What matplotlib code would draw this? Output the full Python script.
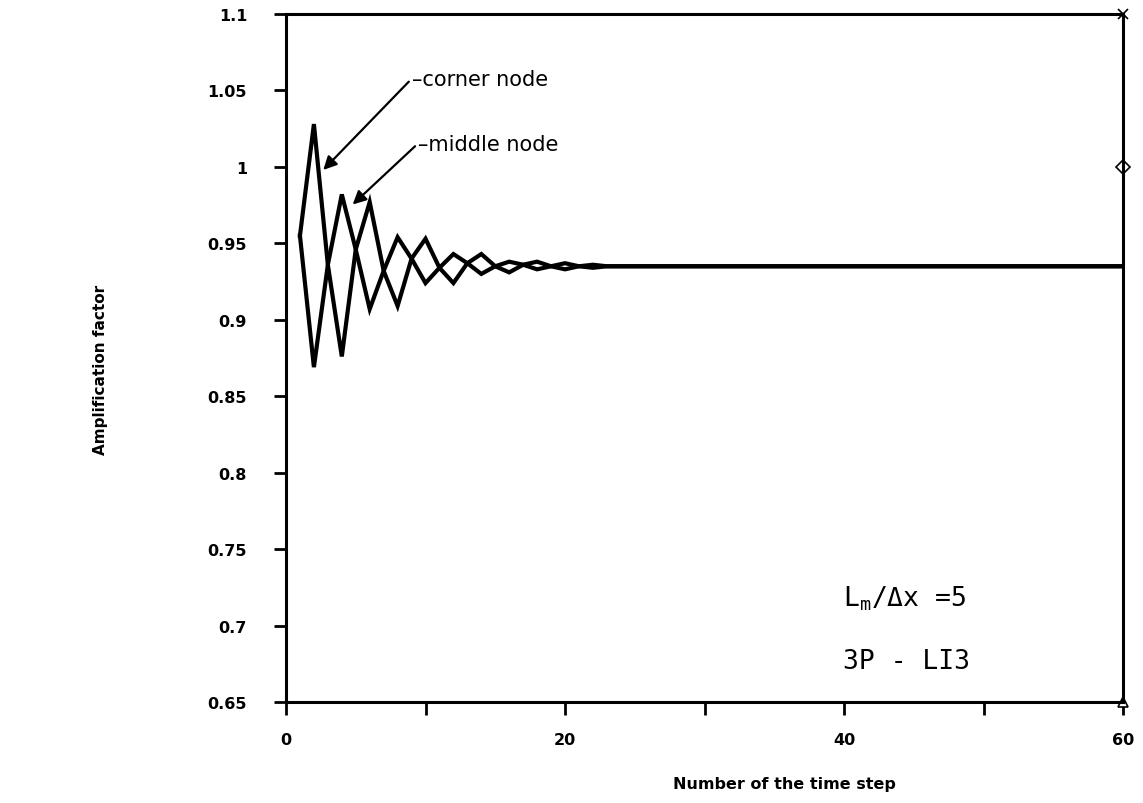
import matplotlib
matplotlib.use("Agg")
import matplotlib.pyplot as plt

# Datos (paso de tiempo 1..60)
steps = list(range(1, 61))
corner_node = [0.955, 1.028, 0.936, 0.876, 0.946, 0.977, 0.932, 0.909, 0.940, 0.953,
               0.934, 0.924, 0.937, 0.943, 0.935, 0.931, 0.936, 0.938, 0.935, 0.933,
               0.935, 0.936, 0.935, 0.935, 0.935, 0.935, 0.935, 0.935, 0.935, 0.935,
               0.935, 0.935, 0.935, 0.935, 0.935, 0.935, 0.935, 0.935, 0.935, 0.935,
               0.935, 0.935, 0.935, 0.935, 0.935, 0.935, 0.935, 0.935, 0.935, 0.935,
               0.935, 0.935, 0.935, 0.935, 0.935, 0.935, 0.935, 0.935, 0.935, 0.935]
middle_node = [0.955, 0.869, 0.936, 0.982, 0.946, 0.907, 0.932, 0.954, 0.940, 0.924,
               0.934, 0.943, 0.937, 0.930, 0.935, 0.938, 0.936, 0.933, 0.935, 0.937,
               0.935, 0.934, 0.935, 0.935, 0.935, 0.935, 0.935, 0.935, 0.935, 0.935,
               0.935, 0.935, 0.935, 0.935, 0.935, 0.935, 0.935, 0.935, 0.935, 0.935,
               0.935, 0.935, 0.935, 0.935, 0.935, 0.935, 0.935, 0.935, 0.935, 0.935,
               0.935, 0.935, 0.935, 0.935, 0.935, 0.935, 0.935, 0.935, 0.935, 0.935]

# marcas sueltas en el borde derecho
edge_x = [60, 60, 60]
edge_y = [1.1, 1.0, 0.65]
edge_markers = ["x", "D", "^"]

x_ticks = [0, 20, 40, 60]
x_minor = [10, 30, 50]
y_ticks = [0.65, 0.7, 0.75, 0.8, 0.85, 0.9, 0.95, 1.0, 1.05, 1.1]
y_labels = ["0.65", "0.7", "0.75", "0.8", "0.85", "0.9", "0.95", "1", "1.05", "1.1"]

fig = plt.figure(figsize=(11.43, 8.04), dpi=100)
ax = fig.add_axes([286 / 1143, 1 - 703 / 804, (1123 - 286) / 1143, (703 - 15) / 804])

ax.plot(steps, corner_node, color="black", lw=3, solid_joinstyle="miter")
ax.plot(steps, middle_node, color="black", lw=3, solid_joinstyle="miter")

for xx, yy, mk in zip(edge_x, edge_y, edge_markers):
    ax.plot(xx, yy, marker=mk, ms=7, mfc="white", mec="black", mew=1.2, clip_on=False)

ax.set_xlim(0, 60)
ax.set_ylim(0.65, 1.1)
ax.set_xticks(x_ticks)
ax.set_xticks(x_minor, minor=True)
ax.set_yticks(y_ticks)
ax.set_yticklabels(y_labels)

for s in ax.spines.values():
    s.set_linewidth(2.2)

ax.tick_params(axis="y", direction="out", length=9, width=2, pad=19,
               labelsize=11.5)
ax.tick_params(axis="x", which="both", direction="out", length=9.5, width=2,
               pad=12, labelsize=11.5)
for lab in ax.get_xticklabels() + ax.get_yticklabels():
    lab.set_fontweight("bold")

# anotaciones con flecha
ax.annotate("\u2013corner node", xy=(2.67, 0.998), xytext=(9.0, 1.0576),
            ha="left", va="center", fontsize=15,
            arrowprops=dict(arrowstyle="-|>", color="black", lw=1.6,
                            mutation_scale=20, relpos=(0, 0.5), shrinkA=0, shrinkB=0))
ax.annotate("\u2013middle node", xy=(4.78, 0.9754), xytext=(9.45, 1.0152),
            ha="left", va="center", fontsize=15,
            arrowprops=dict(arrowstyle="-|>", color="black", lw=1.6,
                            mutation_scale=20, relpos=(0, 0.5), shrinkA=0, shrinkB=0))

ax.text(39.9, 0.718, "L$_\\mathregular{m}$/\u0394x =5",
        fontsize=19, family="DejaVu Sans Mono", ha="left", va="center")
ax.text(39.9, 0.677, "3P - LI3", fontsize=19, family="DejaVu Sans Mono",
        ha="left", va="center")

fig.text(784 / 1143, 1 - 785 / 804, "Number of the time step", ha="center",
         va="center", fontsize=11.5, fontweight="bold")
fig.text(100 / 1143, 1 - 370 / 804, "Amplification factor", ha="center",
         va="center", rotation=90, fontsize=11, fontweight="bold")

fig.savefig("out.png", dpi=100)
